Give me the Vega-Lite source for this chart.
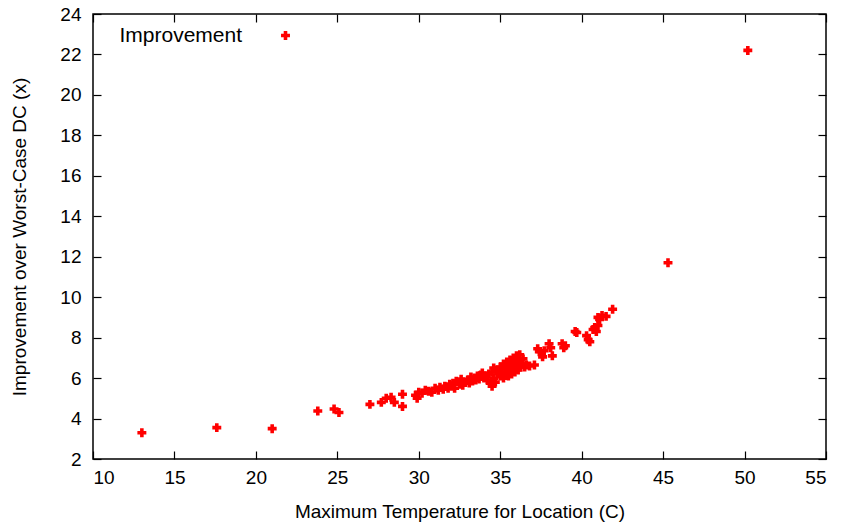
{
  "$schema": "https://vega.github.io/schema/vega-lite/v6.json",
  "width": 733,
  "height": 445,
  "autosize": {"type": "none"},
  "padding": {"left": 93, "top": 14, "right": 17, "bottom": 70},
  "background": "white",
  "config": {
    "view": {"stroke": "black", "strokeWidth": 1.5},
    "font": "Liberation Sans",
    "axis": {
      "grid": false,
      "domain": false,
      "tickColor": "black",
      "tickSize": -8,
      "tickWidth": 1.2,
      "labelFont": "Liberation Sans",
      "labelFontSize": 19,
      "labelColor": "black",
      "titleFont": "Liberation Sans",
      "titleFontSize": 19,
      "titleFontWeight": "normal",
      "titleColor": "black"
    }
  },
  "data": {
    "values": [
      {"t": 13.0, "imp": 3.3}, {"t": 17.6, "imp": 3.55}, {"t": 21.0, "imp": 3.5},
      {"t": 23.8, "imp": 4.37}, {"t": 24.8, "imp": 4.47}, {"t": 25.1, "imp": 4.3},
      {"t": 27.0, "imp": 4.7}, {"t": 27.7, "imp": 4.8}, {"t": 28.0, "imp": 5.0},
      {"t": 28.3, "imp": 5.05}, {"t": 28.5, "imp": 4.8}, {"t": 29.0, "imp": 5.2},
      {"t": 29.0, "imp": 4.6}, {"t": 29.8, "imp": 5.15}, {"t": 29.9, "imp": 5.0},
      {"t": 30.0, "imp": 5.3}, {"t": 30.2, "imp": 5.25}, {"t": 30.4, "imp": 5.4},
      {"t": 30.6, "imp": 5.35}, {"t": 30.8, "imp": 5.3}, {"t": 31.0, "imp": 5.5},
      {"t": 31.2, "imp": 5.4}, {"t": 31.3, "imp": 5.55}, {"t": 31.5, "imp": 5.45},
      {"t": 31.6, "imp": 5.6}, {"t": 31.8, "imp": 5.5}, {"t": 31.9, "imp": 5.7},
      {"t": 32.0, "imp": 5.6}, {"t": 32.1, "imp": 5.75}, {"t": 32.2, "imp": 5.5},
      {"t": 32.3, "imp": 5.85}, {"t": 32.5, "imp": 5.7}, {"t": 32.6, "imp": 5.95},
      {"t": 32.7, "imp": 5.65}, {"t": 32.8, "imp": 5.8}, {"t": 33.0, "imp": 5.9},
      {"t": 33.1, "imp": 5.75}, {"t": 33.2, "imp": 6.05}, {"t": 33.3, "imp": 5.85},
      {"t": 33.4, "imp": 6.0}, {"t": 33.5, "imp": 5.9}, {"t": 33.6, "imp": 6.1},
      {"t": 33.7, "imp": 5.95}, {"t": 33.8, "imp": 6.15}, {"t": 33.9, "imp": 6.25},
      {"t": 34.0, "imp": 6.0}, {"t": 34.1, "imp": 6.1}, {"t": 34.2, "imp": 5.9},
      {"t": 34.3, "imp": 6.2}, {"t": 34.4, "imp": 5.75}, {"t": 34.5, "imp": 5.6},
      {"t": 34.5, "imp": 6.3}, {"t": 34.6, "imp": 6.5}, {"t": 34.6, "imp": 6.0},
      {"t": 34.7, "imp": 5.8}, {"t": 34.8, "imp": 6.4}, {"t": 34.9, "imp": 6.2},
      {"t": 35.0, "imp": 6.1}, {"t": 35.0, "imp": 6.55}, {"t": 35.1, "imp": 6.3},
      {"t": 35.2, "imp": 6.7}, {"t": 35.2, "imp": 6.0}, {"t": 35.3, "imp": 6.45},
      {"t": 35.4, "imp": 6.25}, {"t": 35.4, "imp": 6.8}, {"t": 35.5, "imp": 6.6},
      {"t": 35.5, "imp": 6.1}, {"t": 35.6, "imp": 6.4}, {"t": 35.6, "imp": 6.9},
      {"t": 35.7, "imp": 6.7}, {"t": 35.7, "imp": 6.2}, {"t": 35.8, "imp": 6.5},
      {"t": 35.8, "imp": 7.0}, {"t": 35.9, "imp": 6.3}, {"t": 35.9, "imp": 6.75},
      {"t": 36.0, "imp": 6.6}, {"t": 36.0, "imp": 7.1}, {"t": 36.1, "imp": 6.4},
      {"t": 36.1, "imp": 6.85}, {"t": 36.2, "imp": 7.15}, {"t": 36.2, "imp": 6.55},
      {"t": 36.3, "imp": 6.7}, {"t": 36.4, "imp": 6.95}, {"t": 36.5, "imp": 6.55},
      {"t": 36.6, "imp": 6.65}, {"t": 36.8, "imp": 6.6}, {"t": 37.1, "imp": 6.65},
      {"t": 37.4, "imp": 7.3}, {"t": 37.3, "imp": 7.45}, {"t": 37.6, "imp": 7.05},
      {"t": 37.7, "imp": 7.35}, {"t": 38.0, "imp": 7.7}, {"t": 38.1, "imp": 7.5},
      {"t": 38.2, "imp": 7.1}, {"t": 38.8, "imp": 7.7}, {"t": 38.9, "imp": 7.5},
      {"t": 39.0, "imp": 7.6}, {"t": 39.6, "imp": 8.3}, {"t": 39.7, "imp": 8.25},
      {"t": 40.3, "imp": 8.1}, {"t": 40.4, "imp": 7.9}, {"t": 40.5, "imp": 7.8},
      {"t": 40.7, "imp": 8.4}, {"t": 40.8, "imp": 8.5}, {"t": 40.9, "imp": 8.3},
      {"t": 41.0, "imp": 8.6}, {"t": 41.0, "imp": 9.0}, {"t": 41.1, "imp": 8.9},
      {"t": 41.25, "imp": 9.1}, {"t": 41.5, "imp": 9.05}, {"t": 41.9, "imp": 9.4},
      {"t": 45.3, "imp": 11.7}, {"t": 50.2, "imp": 22.2}
    ]
  },
  "resolve": {"axis": {"x": "independent", "y": "independent"}},
  "layer": [
    {
      "mark": {"type": "point", "shape": "cross", "filled": true, "size": 80, "opacity": 1},
      "encoding": {
        "x": {
          "field": "t", "type": "quantitative",
          "scale": {"domain": [10, 55], "nice": false, "zero": false},
          "axis": {"values": [10, 15, 20, 25, 30, 35, 40, 45, 50, 55], "title": "Maximum Temperature for Location (C)", "labelPadding": 17, "titlePadding": 15}
        },
        "y": {
          "field": "imp", "type": "quantitative",
          "scale": {"domain": [2, 24], "nice": false, "zero": false},
          "axis": {"values": [2, 4, 6, 8, 10, 12, 14, 16, 18, 20, 22, 24], "title": "Improvement over Worst-Case DC (x)", "labelPadding": 20, "titlePadding": 30}
        },
        "color": {
          "datum": "Improvement", "type": "nominal",
          "scale": {"range": ["#ff0000"]},
          "legend": {
            "title": null, "orient": "none", "legendX": 182, "legendY": 11,
            "labelFontSize": 21, "labelFont": "Liberation Sans", "labelColor": "black",
            "labelAlign": "right", "labelOffset": -54, "symbolType": "cross", "symbolSize": 80,
            "symbolStrokeWidth": 0
          }
        }
      }
    },
    {
      "mark": {"type": "point", "opacity": 0},
      "encoding": {
        "x": {"field": "t", "type": "quantitative", "scale": {"domain": [10, 55], "nice": false, "zero": false},
          "axis": {"orient": "top", "values": [10, 15, 20, 25, 30, 35, 40, 45, 50, 55], "labels": false, "title": null}},
        "y": {"field": "imp", "type": "quantitative", "scale": {"domain": [2, 24], "nice": false, "zero": false},
          "axis": {"orient": "right", "values": [2, 4, 6, 8, 10, 12, 14, 16, 18, 20, 22, 24], "labels": false, "title": null}}
      }
    }
  ]
}
